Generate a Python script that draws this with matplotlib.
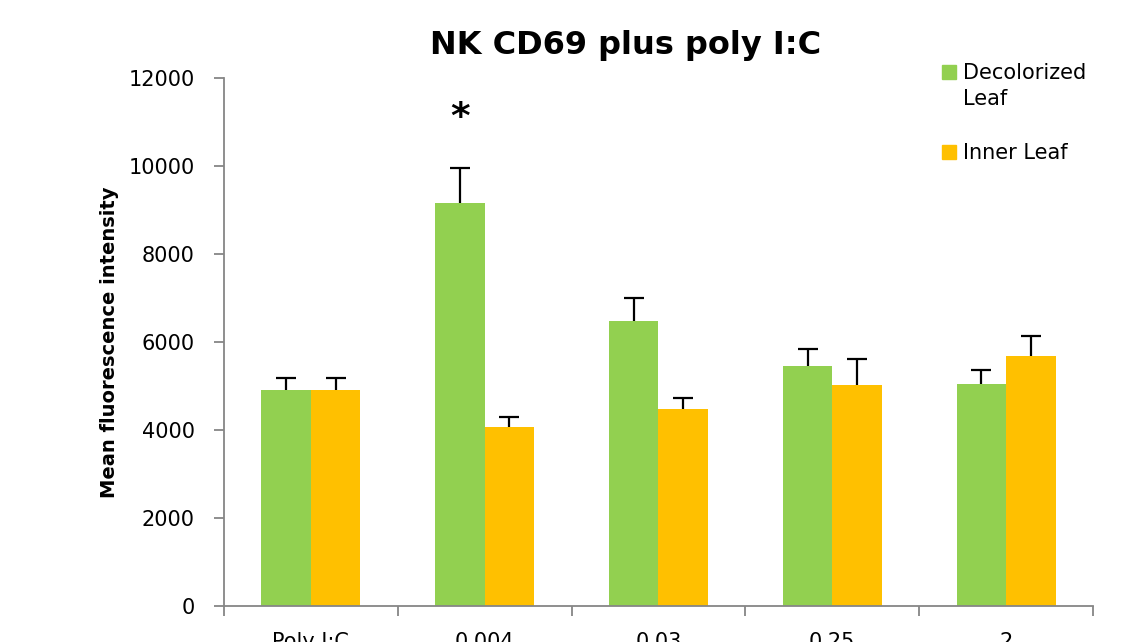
import matplotlib.pyplot as plt
from matplotlib.patches import Rectangle
import numpy as np

plt.rcParams['font.family'] = ['DejaVu Sans']

categories = ['Poly I:C', '0.004', '0.03', '0.25', '2']
decolorized = [4900, 9170, 6485, 5455, 5045]
decolorized_err = [290, 790, 510, 380, 310]
inner = [4900, 4075, 4470, 5030, 5680]
inner_err = [290, 225, 257, 590, 455]
star_value = 11100

green = '#92D050'
orange = '#FFC000'
grey = '#868686'

fig = plt.figure(figsize=(11.26, 6.42), dpi=100)
ax = fig.add_axes([0.1989, 0.0561, 0.7718, 0.8224])

x = np.arange(len(categories))
w = 0.285
err_style = dict(ecolor='black', elinewidth=1.6, capsize=7, capthick=1.6)
for offset, vals, errs, col in [(-w / 2, decolorized, decolorized_err, green),
                                (w / 2, inner, inner_err, orange)]:
    bars = ax.bar(x + offset, vals, w, color=col,
                  yerr=[np.zeros(len(x)), errs], error_kw=err_style)
    # upper error only: hide the cap sitting on the bar top
    caps = bars.errorbar.lines[1]
    caps[0].set_visible(False)

# significance marker over the 0.004 decolorized bar
ax.text(x[1] - w / 2, star_value, '*', ha='center', va='center',
        fontsize=27, fontweight='bold')

ax.set_xlim(-0.5, len(categories) - 0.5)
ax.set_ylim(0, 12000)
ax.set_yticks(np.arange(0, 12001, 2000))
ax.set_xticks(x)
ax.set_xticklabels(categories)
ax.set_xticks(np.arange(-0.5, len(categories)), minor=True)
ax.tick_params(axis='x', which='major', length=0, pad=19, labelsize=15)
ax.tick_params(axis='x', which='minor', length=7, width=1.3, color=grey)
ax.tick_params(axis='y', length=7, width=1.3, color=grey, pad=14, labelsize=15)

for side in ['top', 'right']:
    ax.spines[side].set_visible(False)
for side in ['left', 'bottom']:
    ax.spines[side].set_color(grey)
    ax.spines[side].set_linewidth(1.3)

ax.set_ylabel('Mean fluorescence intensity', fontsize=14, fontweight='bold', labelpad=7)
fig.text(0.556, 0.929, 'NK CD69 plus poly I:C', ha='center', va='center',
         fontsize=23, fontweight='bold')

# legend swatches and labels
for y0, col, label in [(0.877, green, 'Decolorized\nLeaf'), (0.752, orange, 'Inner Leaf')]:
    fig.add_artist(Rectangle((0.8366, y0), 0.0125, 0.0215, color=col,
                             transform=fig.transFigure))
    fig.text(0.8555, y0 + 0.0255, label, ha='left', va='top', fontsize=15,
             linespacing=1.38)

fig.savefig('out.png', dpi=100)
